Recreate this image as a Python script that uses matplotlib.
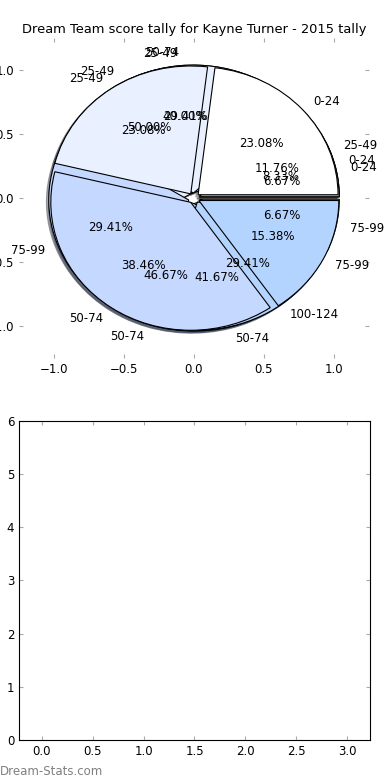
import matplotlib
matplotlib.use("Agg")
import matplotlib.pyplot as plt

# Tally per round (score brackets and how often each was hit)
labels_1 = ["0-24", "25-49", "50-74"]
values_1 = [1, 6, 5]

labels_2 = ["0-24", "25-49", "50-74", "75-99"]
values_2 = [1, 6, 7, 1]

labels_3 = ["25-49", "50-74", "75-99", "100-124"]
values_3 = [2, 5, 5, 5]

labels_4 = ["0-24", "25-49", "50-74", "75-99"]
values_4 = [3, 3, 5, 2]

wedge_colors = ["#FFFFFF", "#E9F0FF", "#C5D8FF", "#B3D4FF"]

plt.rcParams["font.size"] = 8.5
plt.rcParams["xtick.direction"] = "in"
plt.rcParams["ytick.direction"] = "in"
plt.rcParams["xtick.top"] = True
plt.rcParams["ytick.right"] = True

fig = plt.figure(figsize=(3.9, 7.8), dpi=100)
ax1 = fig.add_axes([0.0487, 0.541, 0.897, 0.410])
ax2 = fig.add_axes([0.0487, 0.0513, 0.9, 0.409])

# alle Runden uebereinander zeichnen
for labs, vals in [(labels_1, values_1), (labels_2, values_2),
                   (labels_3, values_3), (labels_4, values_4)]:
    ax1.pie(vals, labels=labs, autopct="%1.2f%%",
            shadow={"ox": -0.012, "oy": -0.012, "shade": 0.6},
            explode=[0.04] * len(vals),
            colors=wedge_colors[:len(vals)],
            wedgeprops={"edgecolor": "black", "linewidth": 0.8})

ax1.set_aspect("auto")
ax1.set_frame_on(False)
ax1.set_xlim(-1.25, 1.25)
ax1.set_ylim(-1.25, 1.25)
ax1.set_xticks([-1.0, -0.5, 0.0, 0.5, 1.0])
ax1.set_yticks([-1.0, -0.5, 0.0, 0.5, 1.0])
ax1.tick_params(color="#aaaaaa", length=3)
ax1.set_title("Dream Team score tally for Kayne Turner - 2015 tally",
              fontsize=9.4, pad=4)

ax2.set_xlim(-0.225, 3.225)
ax2.set_ylim(0, 6)
ax2.set_xticks([0.0, 0.5, 1.0, 1.5, 2.0, 2.5, 3.0])
ax2.set_yticks(range(7))
ax2.tick_params(color="#aaaaaa", length=3)

fig.text(0.0, 0.003, "Dream-Stats.com", color="#808080", fontsize=8.5,
         ha="left", va="bottom")

fig.savefig("out.png", dpi=100)
